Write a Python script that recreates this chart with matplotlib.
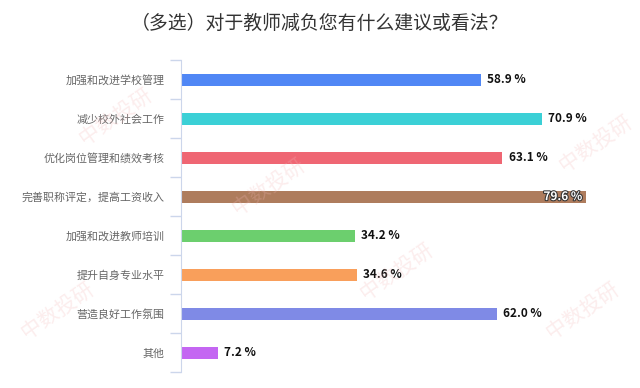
import matplotlib
matplotlib.use("Agg")
import matplotlib.pyplot as plt
import matplotlib.patheffects as pe

plt.rcParams["font.family"] = ["Noto Sans CJK SC", "DejaVu Sans"]

# survey answers, top to bottom
categories = [
    "加强和改进学校管理",
    "减少校外社会工作",
    "优化岗位管理和绩效考核",
    "完善职称评定，提高工资收入",
    "加强和改进教师培训",
    "提升自身专业水平",
    "营造良好工作氛围",
    "其他",
]
values = [58.9, 70.9, 63.1, 79.6, 34.2, 34.6, 62.0, 7.2]
colors = ["#5087F5", "#3BD0D6", "#EF6673", "#AE7C5D",
          "#6CCF6E", "#F99F5B", "#7F8AE6", "#C466F2"]

fig = plt.figure(figsize=(6.4, 3.88), dpi=100)
ax = fig.add_axes([0.283, 0.041, 0.716, 0.804])

y = list(range(len(categories)))
ax.barh(y, values, height=0.31, color=colors)
ax.set_ylim(len(categories) - 0.5, -0.5)
ax.set_xlim(0, 90)

for yi, v in zip(y, values):
    label = f"{v:.1f} %"
    if v > 75:
        ax.text(v - 0.8, yi, label, ha="right", va="center", fontsize=8.5,
                fontweight="bold", color="white",
                path_effects=[pe.withStroke(linewidth=1.5, foreground="#333333")])
    else:
        ax.text(v + 1.2, yi, label, ha="left", va="center", fontsize=8.5,
                fontweight="bold", color="#111111")

ax.set_yticks(y)
ax.set_yticklabels(categories, fontsize=7.9, color="#666666")
ax.tick_params(axis="y", length=0, pad=12)
# tick marks between categories
ax.set_yticks([i - 0.5 for i in range(len(categories) + 1)], minor=True)
ax.tick_params(axis="y", which="minor", length=8, color="#ccd6eb", width=1)
ax.set_xticks([])

for side in ["top", "right", "bottom"]:
    ax.spines[side].set_visible(False)
ax.spines["left"].set_color("#ccd6eb")

fig.text(0.5, 0.94, "（多选）对于教师减负您有什么建议或看法？",
         ha="center", va="center", fontsize=13.6, color="#333333")

# faint watermarks
marks = [(0.42, 0.52), (0.93, 0.63), (0.09, 0.2), (0.62, 0.3),
         (0.91, 0.2), (0.18, 0.7)]
for mx, my in marks:
    fig.text(mx, my, "中数投研", ha="center", va="center", fontsize=15,
             color="#f3b8b8", alpha=0.25, rotation=35)

fig.savefig("out.png", dpi=100)
